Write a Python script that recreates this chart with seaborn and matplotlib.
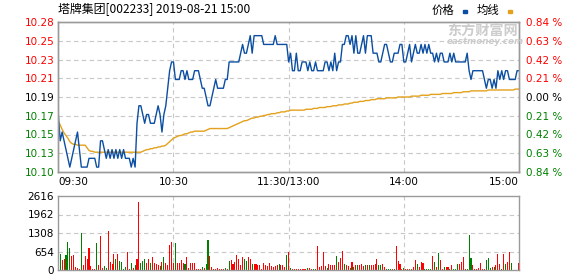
import numpy as np
import pandas as pd
import matplotlib
matplotlib.use("Agg")
import matplotlib.pyplot as plt
import matplotlib.transforms as mtrans
from matplotlib.patches import Rectangle
import seaborn as sns

# ---------------- data ----------------
title = "塔牌集团[002233] 2019-08-21 15:00"
pre_close = 10.19

price = [
    10.17, 10.14, 10.15, 10.14, 10.13, 10.12, 10.11, 10.12, 10.13, 10.14,
    10.15, 10.13, 10.11, 10.11, 10.11, 10.11, 10.12, 10.12, 10.12, 10.12,
    10.11, 10.11, 10.14, 10.14, 10.13, 10.12, 10.13, 10.12, 10.13, 10.12,
    10.13, 10.12, 10.13, 10.12, 10.13, 10.12, 10.12, 10.12, 10.11, 10.12,
    10.11, 10.16, 10.18, 10.18, 10.17, 10.16, 10.17, 10.17, 10.16, 10.16,
    10.16, 10.17, 10.18, 10.17, 10.15, 10.17, 10.18, 10.20, 10.22, 10.23,
    10.23, 10.21, 10.21, 10.21, 10.22, 10.22, 10.21, 10.22, 10.21, 10.21,
    10.21, 10.22, 10.22, 10.22, 10.21, 10.20, 10.20, 10.19, 10.18, 10.18,
    10.19, 10.20, 10.21, 10.20, 10.20, 10.20, 10.20, 10.21, 10.21, 10.23,
    10.23, 10.23, 10.23, 10.23, 10.23, 10.24, 10.25, 10.24, 10.24, 10.25,
    10.26, 10.24, 10.26, 10.26, 10.26, 10.26, 10.26, 10.25, 10.25, 10.25,
    10.25, 10.25, 10.25, 10.26, 10.25, 10.25, 10.25, 10.25, 10.25, 10.25,
    10.23, 10.24, 10.22, 10.22, 10.24, 10.22, 10.22, 10.23, 10.23, 10.23,
    10.22, 10.23, 10.22, 10.22, 10.23, 10.22, 10.22, 10.22, 10.22, 10.23,
    10.23, 10.22, 10.23, 10.22, 10.24, 10.22, 10.23, 10.23, 10.25, 10.25,
    10.26, 10.26, 10.25, 10.26, 10.24, 10.26, 10.24, 10.24, 10.25, 10.26,
    10.24, 10.26, 10.26, 10.26, 10.24, 10.24, 10.24, 10.23, 10.23, 10.24,
    10.25, 10.25, 10.24, 10.23, 10.23, 10.24, 10.24, 10.24, 10.25, 10.25,
    10.23, 10.23, 10.24, 10.25, 10.23, 10.24, 10.25, 10.24, 10.24, 10.25,
    10.24, 10.25, 10.24, 10.25, 10.24, 10.24, 10.23, 10.24, 10.23, 10.24,
    10.24, 10.23, 10.23, 10.23, 10.24, 10.23, 10.24, 10.23, 10.23, 10.23,
    10.23, 10.23, 10.23, 10.24, 10.22, 10.21, 10.22, 10.22, 10.22, 10.22,
    10.22, 10.22, 10.21, 10.20, 10.21, 10.21, 10.20, 10.21, 10.20, 10.22,
    10.21, 10.22, 10.21, 10.22, 10.22, 10.21, 10.21, 10.21, 10.21, 10.22, 10.22,
]

avg_price = [
    10.162, 10.158, 10.153, 10.149, 10.146, 10.143, 10.139, 10.137, 10.136, 10.136,
    10.135, 10.135, 10.135, 10.135, 10.135, 10.132, 10.129, 10.128, 10.128, 10.127,
    10.127, 10.127, 10.127, 10.127, 10.127, 10.127, 10.127, 10.127, 10.127, 10.127,
    10.127, 10.127, 10.127, 10.127, 10.127, 10.127, 10.127, 10.127, 10.127, 10.127,
    10.127, 10.127, 10.127, 10.127, 10.128, 10.129, 10.130, 10.130, 10.131, 10.131,
    10.132, 10.132, 10.133, 10.133, 10.134, 10.134, 10.135, 10.137, 10.139, 10.141,
    10.143, 10.144, 10.145, 10.146, 10.146, 10.147, 10.148, 10.148, 10.149, 10.150,
    10.150, 10.151, 10.151, 10.151, 10.151, 10.151, 10.151, 10.152, 10.153, 10.154,
    10.154, 10.154, 10.154, 10.154, 10.154, 10.154, 10.154, 10.154, 10.154, 10.155,
    10.156, 10.157, 10.158, 10.159, 10.160, 10.161, 10.162, 10.163, 10.163, 10.164,
    10.165, 10.166, 10.166, 10.167, 10.167, 10.168, 10.168, 10.169, 10.169, 10.170,
    10.170, 10.171, 10.171, 10.171, 10.172, 10.172, 10.173, 10.173, 10.173, 10.174,
    10.174, 10.175, 10.175, 10.175, 10.175, 10.175, 10.175, 10.175, 10.175, 10.176,
    10.176, 10.176, 10.176, 10.177, 10.177, 10.177, 10.178, 10.178, 10.178, 10.178,
    10.179, 10.179, 10.179, 10.180, 10.180, 10.180, 10.181, 10.181, 10.181, 10.182,
    10.182, 10.182, 10.183, 10.183, 10.184, 10.184, 10.184, 10.185, 10.185, 10.185,
    10.186, 10.186, 10.186, 10.187, 10.187, 10.187, 10.188, 10.188, 10.188, 10.188,
    10.188, 10.189, 10.189, 10.189, 10.189, 10.189, 10.189, 10.190, 10.190, 10.190,
    10.190, 10.190, 10.190, 10.190, 10.191, 10.191, 10.191, 10.191, 10.191, 10.192,
    10.192, 10.192, 10.192, 10.192, 10.193, 10.193, 10.193, 10.193, 10.193, 10.193,
    10.194, 10.194, 10.194, 10.194, 10.194, 10.194, 10.195, 10.195, 10.195, 10.195,
    10.195, 10.196, 10.196, 10.196, 10.196, 10.197, 10.197, 10.197, 10.197, 10.197,
    10.197, 10.197, 10.197, 10.197, 10.198, 10.198, 10.198, 10.198, 10.198, 10.198,
    10.198, 10.198, 10.198, 10.198, 10.198, 10.198, 10.198, 10.198, 10.199, 10.199, 10.199,
]

volume = [
    0, 565, 353, 389, 518, 990, 766, 495, 518, 94,
    59, 30, 1319, 177, 495, 389, 777, 141, 47, 35,
    942, 165, 1201, 80, 141, 80, 1378, 283, 212, 565,
    389, 565, 306, 283, 47, 94, 636, 47, 236, 70,
    177, 389, 2403, 236, 330, 377, 236, 389, 260, 448,
    260, 212, 165, 141, 283, 460, 248, 189, 883, 990,
    236, 966, 236, 260, 353, 236, 212, 448, 59, 236,
    248, 236, 47, 35, 47, 94, 59, 212, 1060, 483,
    94, 47, 35, 59, 35, 35, 35, 59, 35, 318,
    353, 212, 294, 518, 400, 177, 448, 389, 330, 448,
    377, 212, 212, 212, 177, 177, 47, 260, 177, 141,
    236, 153, 94, 153, 165, 212, 177, 177, 118, 518, 636,
    59, 35, 35, 35, 35, 35, 35, 35, 35, 70,
    59, 35, 35, 35, 848, 94, 141, 648, 141, 70,
    212, 177, 177, 177, 495, 294, 424, 683, 212, 177,
    141, 70, 283, 94, 177, 177, 177, 212, 141, 177,
    177, 177, 177, 177, 212, 389, 177, 177, 212, 94,
    35, 35, 35, 35, 35, 848, 318, 212, 35, 59,
    35, 35, 35, 35, 94, 353, 212, 94, 283, 236,
    35, 35, 35, 35, 495, 283, 94, 613, 341, 47,
    106, 106, 94, 47, 177, 35, 47, 212, 212, 294,
    460, 47, 47, 1237, 424, 165, 35, 35, 59, 260,
    35, 35, 353, 424, 59, 94, 94, 177, 565, 212,
    47, 565, 212, 294, 648, 260, 0, 0, 0, 260,
]

direction = list(
    "rgrrgggrrr" "rrgrrrrrrr" "grrrggrrrr" "grggggrrgr" "grrgggrrgr"
    "rrrgrgrrrr" "rgrrrrgrrr" "rrrrrgrggr" "rrrrrrrgrg" "rrrrrrrggr"
    "rgrrrrrrrr" "rrrrrgrrrgr"
    "grrrrrrrrg" "rrggrrrrrg" "rrrrgrrrgr" "rgrgrgrrrg" "rgrrrrggrr"
    "gggrgrrrrg" "rrrgrrgrrr" "ggggrgrgrr" "grrgrgggrr" "rrgggrrrrr"
    "rrgggrgrrr" "grgrrgrrrr"
)

minutes = list(range(241))
price_tick_labels = ["10.28", "10.25", "10.23", "10.21", "10.19",
                     "10.17", "10.15", "10.13", "10.10"]
pct_tick_labels = ["0.84 %", "0.63 %", "0.42 %", "0.21 %", "0.00 %",
                   "0.21 %", "0.42 %", "0.63 %", "0.84 %"]
vol_ticks = [0, 654, 1308, 1962, 2616]
time_labels = [(0, "09:30"), (60, "10:30"), (120, "11:30/13:00"),
               (180, "14:00"), (240, "15:00")]

# ---------------- style ----------------
sns.set_style("white")
plt.rcParams["font.family"] = ["DejaVu Sans", "Noto Sans CJK SC"]

RED = "#ff0000"
GREEN = "#008000"
BLUE = "#0b4ea2"
ORANGE = "#e4a11b"
GRID = "#c8c8c8"
SPINE = "#9a9a9a"
FS = 7.5

W, H = 578, 276
fig = plt.figure(figsize=(W / 100, H / 100), dpi=100)


def fx(px):
    return px / W


def fy(py):
    return 1 - py / H


L, R = 58.3, 519.0
ax = fig.add_axes([fx(L), fy(172), (R - L) / W, (172 - 22) / H])
axv = fig.add_axes([fx(L), fy(270), (R - L) / W, (270 - 196) / H])

df = pd.DataFrame({"minute": minutes, "price": price, "avg": avg_price,
                   "volume": volume, "dir": direction})
df["up_vol"] = np.where(df["dir"] == "r", df["volume"], 0)
df["down_vol"] = np.where(df["dir"] == "g", df["volume"], 0)

lo, hi = pre_close * (1 - 0.0084), pre_close * (1 + 0.0084)
levels = np.linspace(hi, lo, 9)

# grid
for lv in levels[1:-1]:
    ax.axhline(lv, color=GRID, lw=0.8, ls=(0, (4, 3)), zorder=0.5)
for t in (60, 120, 180):
    ax.axvline(t, color=GRID, lw=0.8, ls=(0, (4, 3)), zorder=0.5)
    axv.axvline(t, color=GRID, lw=0.8, ls=(0, (4, 3)), zorder=0.5)
for v in vol_ticks[1:-1]:
    axv.axhline(v, color=GRID, lw=0.8, ls=(0, (4, 3)), zorder=0.5)

sns.lineplot(data=df, x="minute", y="avg", color=ORANGE, lw=1.0,
             estimator=None, ax=ax, zorder=3)
sns.lineplot(data=df, x="minute", y="price", color=BLUE, lw=1.0,
             estimator=None, ax=ax, zorder=4)

ax.set_xlim(0, 240)
ax.set_ylim(lo, hi)
ax.set_xlabel("")
ax.set_ylabel("")
ax.set_xticks([])
ax.set_yticks(levels)
ax.set_yticklabels(price_tick_labels)
ax.tick_params(axis="y", length=0, pad=3, labelsize=FS)
for i, lab in enumerate(ax.get_yticklabels()):
    lab.set_color(RED if i < 4 else ("black" if i == 4 else GREEN))

axr = ax.twinx()
axr.set_ylim(lo, hi)
axr.set_yticks(levels)
axr.set_yticklabels(pct_tick_labels)
axr.tick_params(axis="y", length=0, pad=5, labelsize=FS)
for i, lab in enumerate(axr.get_yticklabels()):
    lab.set_color(RED if i < 4 else ("black" if i == 4 else GREEN))

# time labels
trans = mtrans.blended_transform_factory(ax.transData, ax.transAxes)
for t, lab in time_labels:
    ha = "left" if t == 0 else ("right" if t == 240 else "center")
    ax.text(t, -0.068, lab, transform=trans, ha=ha, va="center",
            fontsize=FS, color="black")

# volume (crisp one-pixel bars, no error bars)
sns.barplot(data=df, x="minute", y="up_vol", color=RED, width=0.55,
            saturation=1, linewidth=0, antialiased=False, errorbar=None,
            ax=axv, zorder=3)
sns.barplot(data=df, x="minute", y="down_vol", color=GREEN, width=0.55,
            saturation=1, linewidth=0, antialiased=False, errorbar=None,
            ax=axv, zorder=3)
axv.set_xlim(0, 240)
axv.set_ylim(0, 2616)
axv.set_xlabel("")
axv.set_ylabel("")
axv.set_xticks([])
axv.set_yticks(vol_ticks)
axv.set_yticklabels([str(v) for v in vol_ticks])
axv.tick_params(axis="y", length=0, pad=3, labelsize=FS, labelcolor="black")

for a in (ax, axr, axv):
    for s in a.spines.values():
        s.set_color(SPINE)
        s.set_linewidth(1.0)
        s.set_visible(True)
        s.set_zorder(5)

# title & legend
fig.text(fx(58), fy(10), title, fontsize=8.6, va="center", ha="left",
         family=["Noto Sans CJK SC", "DejaVu Sans"], color="black")
fig.text(fx(432), fy(10), "价格", fontsize=8.2, va="center", ha="left",
         family=["Noto Sans CJK SC"], color="black")
fig.text(fx(477), fy(10), "均线", fontsize=8.2, va="center", ha="left",
         family=["Noto Sans CJK SC"], color="black")
fig.add_artist(Rectangle((fx(463), fy(13)), 4 / W, 3 / H, color=BLUE,
                         transform=fig.transFigure))
fig.add_artist(Rectangle((fx(508), fy(13)), 4 / W, 3 / H, color=ORANGE,
                         transform=fig.transFigure))

# watermark
fig.text(fx(447), fy(31), "东方财富网", fontsize=10.2, va="center", ha="left",
         family=["Noto Sans CJK SC"], weight="bold", color="#cccccc", zorder=0)
fig.text(fx(447), fy(42), "eastmoney.com", fontsize=6.3, va="center", ha="left",
         weight="bold", style="italic", color="#cccccc", zorder=0)

fig.savefig("out.png", dpi=100)
